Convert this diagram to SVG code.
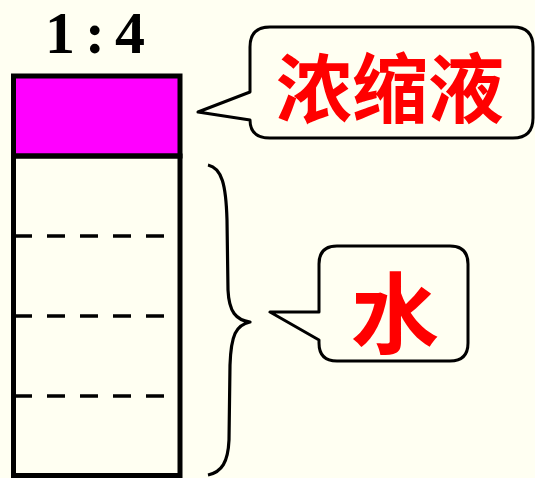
<svg xmlns="http://www.w3.org/2000/svg" width="535" height="478" viewBox="0 0 535 478">
<style>
.line{fill:none;stroke:#000;stroke-linejoin:round}
.callout{fill:#FFFFF2;stroke:#000;stroke-width:3;stroke-linejoin:round}
.label{fill:#FF0000;font-family:"Noto Sans CJK SC","Noto Sans",sans-serif;font-weight:bold;text-anchor:middle}
.dash{stroke:#000;stroke-width:3.5;stroke-dasharray:18 15}
</style>
<rect x="0" y="0" width="535" height="478" fill="#FFFFF2"/>
<g id="ratio">
<text x="45" y="53" font-family="'Liberation Serif',serif" font-weight="bold" font-size="60" letter-spacing="10" fill="#000">1:4</text>
</g>
<g id="container">
<rect x="13.5" y="76" width="166.5" height="80" fill="#FF00FF" stroke="#000" stroke-width="5"/>
<rect x="13.5" y="156" width="166.5" height="319.5" fill="none" stroke="#000" stroke-width="5"/>
<line class="dash" x1="14" y1="236" x2="180" y2="236"/>
<line class="dash" x1="14" y1="316" x2="180" y2="316"/>
<line class="dash" x1="14" y1="396" x2="180" y2="396"/>
</g>
<g id="connectors">
<path class="line" stroke-width="3.2" d="M208,165 C222,168 226,185 227,220 L228,290 C229,312 236,320 250,322 C236,325 231,335 230,365 L229,440 C228,462 222,472 208,475"/>
</g>
<g id="callout-concentrate">
<path class="callout" d="M270,27 H513 Q533,27 533,47 V118 Q533,138 513,138 H270 Q250,138 250,120 L198,112 L250,92 V47 Q250,27 270,27 Z"/>
<text class="label" x="390" y="117" font-size="76">浓缩液</text>
</g>
<g id="callout-water">
<path class="callout" d="M337,246 H450 Q468,246 468,264 V343 Q468,361 450,361 H337 Q319,361 319,343 V340 L270,312 H319 V264 Q319,246 337,246 Z"/>
<text class="label" x="395" y="346" font-size="88" font-weight="500">水</text>
</g>
</svg>
